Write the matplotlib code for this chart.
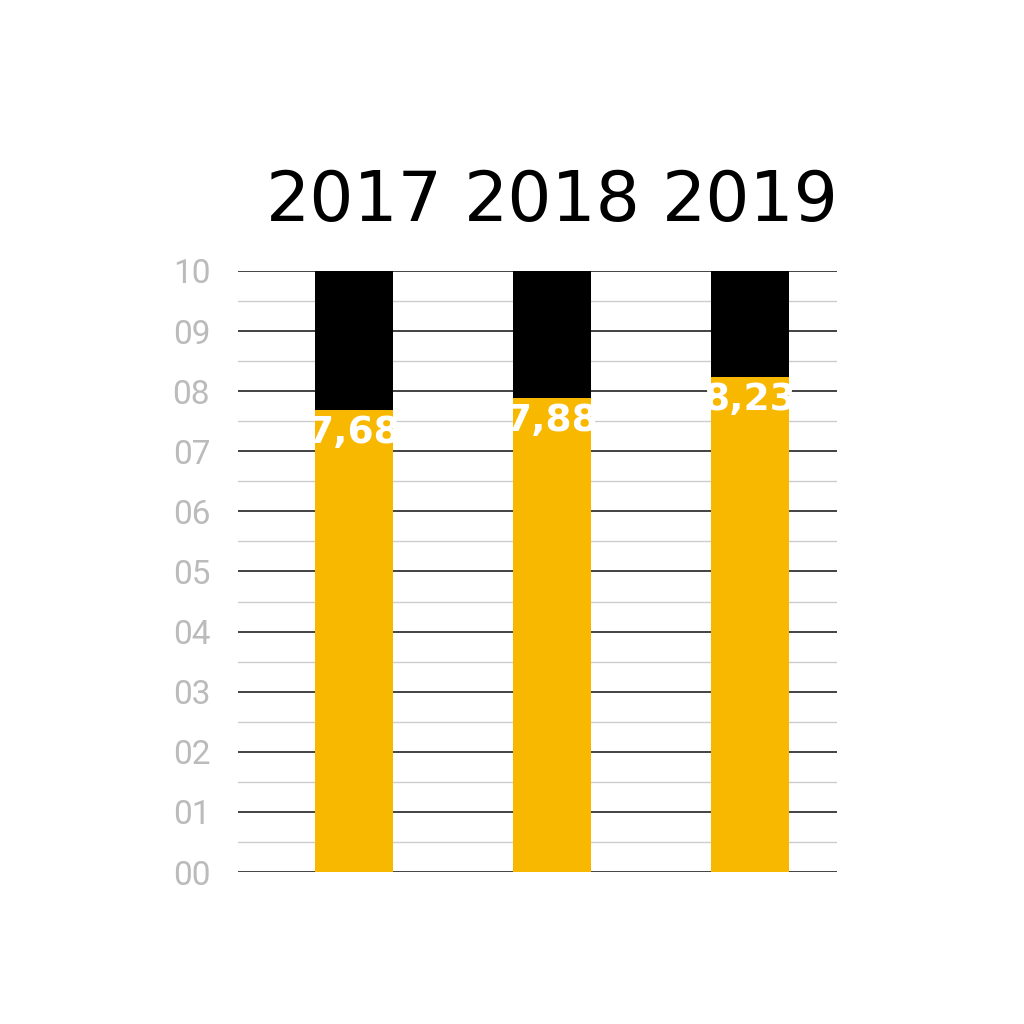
import matplotlib
matplotlib.use("Agg")
import matplotlib.pyplot as plt

years = ["2017", "2018", "2019"]
values = [7.68, 7.88, 8.23]
value_labels = ["7,68", "7,88", "8,23"]
total = 10
ytick_labels = ["00", "01", "02", "03", "04", "05", "06", "07", "08", "09", "10"]

fig = plt.figure(figsize=(10.24, 10.24), dpi=100)
ax = fig.add_axes([0.2324, 0.1484, 0.585, 0.587])
x = list(range(len(years)))
ax.bar(x, values, width=0.39, color="#F9B800", zorder=3)
ax.bar(x, [total - v for v in values], bottom=values, width=0.39, color="black", zorder=3)
for i in range(11):
    ax.axhline(i, color="#222222", lw=1.2, zorder=1)
    if i < 10:
        ax.axhline(i + 0.5, color="#cccccc", lw=1.0, zorder=1)
for xi, v, lab in zip(x, values, value_labels):
    ax.text(xi, v - 0.08, lab, ha="center", va="top", color="white", fontsize=27,
            fontweight="bold", family=["Liberation Sans Narrow", "DejaVu Sans"], zorder=4)
for xi, y in zip(x, years):
    ax.text(xi, 10.6, y, ha="center", va="bottom", fontsize=50,
            family=["Liberation Sans Narrow", "DejaVu Sans"])
ax.set_xlim(-0.586, 2.44)
ax.set_ylim(0, 10)
ax.set_yticks(range(11))
ax.set_yticklabels(ytick_labels, color="#bbbbbb", fontsize=24, family="Roboto")
ax.tick_params(axis="y", length=0, pad=20)
ax.set_xticks([])
for s in ax.spines.values():
    s.set_visible(False)
fig.savefig("out.png", dpi=100, facecolor="white")
